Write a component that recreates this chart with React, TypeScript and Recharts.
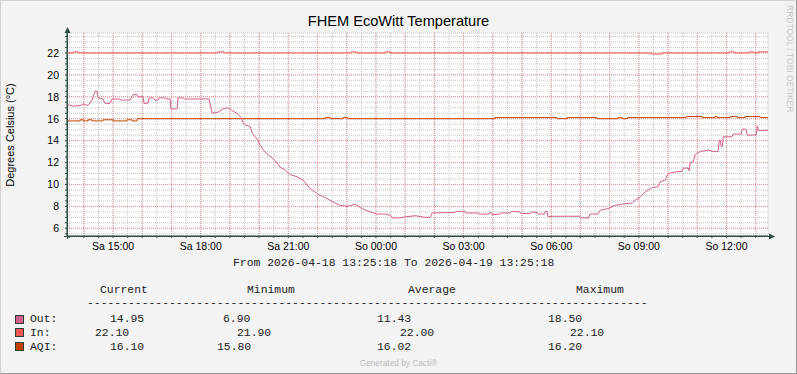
import React from 'react';
import { LineChart, Line, XAxis, YAxis, CartesianGrid } from 'recharts';

// time axis: hours since 2026-04-18 13:25:18
const outTemp: [number, number][] = [
  [0, 17.3], [0.21, 17.15], [0.45, 17.2], [0.55, 17.35], [0.72, 17.2], [0.86, 17.7], [0.96, 18.5], [1.03, 18.5],
  [1.06, 17.9], [1.23, 17.8], [1.3, 17.4], [1.47, 17.4], [1.54, 17.8], [1.82, 17.8], [1.85, 17.7], [2.16, 17.7],
  [2.26, 18.2], [2.4, 18.2], [2.43, 18.0], [2.6, 18.0], [2.64, 17.4], [2.77, 17.4], [2.81, 17.9], [2.95, 17.9],
  [3.01, 17.7], [3.12, 17.7], [3.15, 17.9], [3.36, 17.9], [3.39, 17.8], [3.53, 17.8], [3.56, 16.85], [3.63, 16.9],
  [3.77, 16.9], [3.8, 17.9], [3.97, 17.9], [4.01, 17.8], [4.45, 17.8], [4.86, 17.8], [4.97, 16.5], [5.17, 16.6],
  [5.34, 16.9], [5.48, 17.0], [5.58, 16.9], [5.68, 16.7], [5.82, 16.5], [5.96, 16.1], [6.03, 15.6], [6.13, 15.4],
  [6.27, 15.3], [6.34, 14.7], [6.44, 14.35], [6.54, 14.0], [6.61, 13.6], [6.71, 13.2], [6.82, 12.85], [6.99, 12.5],
  [7.12, 12.2], [7.29, 11.6], [7.47, 11.3], [7.64, 10.9], [7.88, 10.7], [8.08, 10.4], [8.32, 9.65], [8.6, 9.1],
  [8.84, 8.8], [9.11, 8.4], [9.35, 8.1], [9.59, 8.0], [9.86, 8.2], [10.1, 7.8], [10.38, 7.5], [10.62, 7.3],
  [10.89, 7.3], [11.06, 7.2], [11.16, 6.95], [11.4, 6.95], [11.58, 7.05], [11.92, 7.15], [12.26, 7.0], [12.43, 7.0],
  [12.5, 7.4], [13.29, 7.45], [13.32, 7.55], [13.63, 7.55], [13.66, 7.4], [14.08, 7.4], [14.11, 7.3], [14.45, 7.3],
  [14.49, 7.5], [14.55, 7.25], [14.83, 7.3], [14.86, 7.4], [15.17, 7.4], [15.21, 7.55], [15.51, 7.5], [15.55, 7.35],
  [15.86, 7.35], [15.89, 7.5], [16.1, 7.45], [16.13, 7.3], [16.34, 7.3], [16.37, 7.55], [16.44, 7.55], [16.47, 7.05],
  [16.64, 7.1], [17.57, 7.1], [17.6, 6.95], [17.81, 6.95], [17.84, 6.9], [17.91, 7.3], [18.18, 7.3], [18.25, 7.65],
  [18.53, 7.8], [18.77, 8.1], [19.11, 8.25], [19.35, 8.3], [19.45, 8.55], [19.62, 8.85], [19.79, 9.3], [20.03, 9.7],
  [20.24, 9.8], [20.31, 10.25], [20.48, 10.4], [20.58, 11.0], [20.82, 11.15], [21.06, 11.2], [21.1, 11.5], [21.27, 11.5],
  [21.3, 11.25], [21.34, 12.0], [21.44, 12.1], [21.51, 12.75], [21.68, 13.0], [21.95, 13.15], [22.12, 13.0], [22.29, 13.0],
  [22.33, 14.05], [22.36, 14.05], [22.4, 13.45], [22.43, 13.45], [22.47, 14.35], [22.77, 14.35], [22.81, 14.6], [23.08, 14.6],
  [23.12, 15.05], [23.25, 15.05], [23.29, 14.5], [23.46, 14.5], [23.6, 14.55], [23.63, 15.35], [23.67, 14.9], [24, 14.95],
];

const inTemp: [number, number][] = [
  [0, 22.0], [0.24, 22.1], [0.38, 22.0], [5.17, 22.1], [5.38, 22.0], [9.73, 22.1], [9.9, 22.0], [10.89, 22.1],
  [11.06, 22.0], [20.03, 21.9], [20.38, 22.0], [22.67, 22.1], [22.84, 22.0], [23.36, 22.1], [23.49, 22.0],
  [23.66, 22.1], [24, 22.1],
];

const aqi: [number, number][] = [
  [0, 15.9], [0.03, 15.8], [0.45, 15.9], [0.55, 15.8], [0.72, 15.9], [0.86, 15.8], [1.23, 15.9], [1.58, 15.8],
  [2.05, 15.9], [2.23, 15.8], [2.4, 16.0], [8.84, 16.1], [9.01, 16.0], [9.45, 16.1], [9.62, 16.0], [14.66, 16.1],
  [16.78, 16.0], [17.12, 16.1], [18.15, 16.0], [18.87, 16.1], [19.01, 16.0], [19.18, 16.1], [21.2, 16.2], [21.75, 16.1],
  [22.19, 16.2], [22.26, 16.1], [22.71, 16.2], [22.95, 16.1], [23.22, 16.2], [23.73, 16.1], [24, 16.1],
];

const xTickHours = [1.578, 4.578, 7.578, 10.578, 13.578, 16.578, 19.578, 22.578];
const xTickLabels = ['Sa 15:00', 'Sa 18:00', 'Sa 21:00', 'So 00:00', 'So 03:00', 'So 06:00', 'So 09:00', 'So 12:00'];
const yTickLabels = [6, 8, 10, 12, 14, 16, 18, 20, 22];

const seriesNames = ['Out:', 'In:', 'AQI:'];
const seriesColors = ['#D2608A', '#F25752', '#C04400'];
const currentValues = ['14.95', '22.10', '16.10'];
const minimumValues = ['6.90', '21.90', '15.80'];
const averageValues = ['11.43', '22.00', '16.02'];
const maximumValues = ['18.50', '22.10', '16.20'];
const columnHeaders = ['Current', 'Minimum', 'Average', 'Maximum'];

// legend column x positions per row (rrdtool alignment)
const legendCols = [
  [110, 223, 377, 548],
  [95, 237, 400, 570],
  [110, 217, 377, 548],
];
const headerCols = [100, 247, 408, 576];
const rowY = [319, 332.5, 346.5];

const firstHalfHour = 0.0783; // 13:30:00
const halfHours: number[] = [];
for (let t = firstHalfHour; t < 24; t += 0.5) halfHours.push(+t.toFixed(4));
const fullHours: number[] = [];
for (let t = firstHalfHour + 0.5; t < 24; t += 1) fullHours.push(+t.toFixed(4));
const yMinor: number[] = [];
for (let v = 5.5; v <= 23.5; v += 0.5) yMinor.push(v);

const toRows = (s: [number, number][]) => s.map(([t, v]) => ({ t, v }));

const SANS = '"Liberation Sans", Arial, sans-serif';
const MONO = '"Liberation Mono", monospace';

const XTick = (props: any) => {
  const { x, y, payload } = props;
  const i = xTickHours.findIndex((h) => Math.abs(h - payload.value) < 0.01);
  if (i < 0) return <g />;
  return (
    <text x={x} y={y + 10} textAnchor="middle" fontFamily={SANS} fontSize={10.5} fill="#000">
      {xTickLabels[i]}
    </text>
  );
};

const YTick = (props: any) => {
  const { x, y, payload } = props;
  if (!yTickLabels.includes(payload.value)) return <g />;
  return (
    <text x={x} y={y + 3.8} textAnchor="end" fontFamily={SANS} fontSize={10.5} fill="#000">
      {payload.value}
    </text>
  );
};

const T = ({ x, y, size = 11.4, font = MONO, color = '#222', children }: any) => (
  <div
    style={{
      position: 'absolute', left: x, top: y - 7, lineHeight: '14px', fontFamily: font,
      fontSize: size, color, whiteSpace: 'pre',
    }}
  >
    {children}
  </div>
);

export default function App() {
  return (
    <div style={{ position: 'relative', width: 797, height: 374, background: '#F3F3F3', overflow: 'hidden' }}>
      <style>{'body{margin:0}'}</style>
      <div
        style={{
          position: 'absolute', inset: 0, borderTop: '1px solid #d0d0d0', borderLeft: '1px solid #d0d0d0',
          borderRight: '1px solid #999', borderBottom: '1px solid #999', boxSizing: 'border-box',
        }}
      />
      <div style={{ position: 'absolute', left: 0, top: 0 }}>
        <LineChart width={797} height={374} margin={{ top: 33, right: 29, bottom: 118, left: 27 }}>
          <CartesianGrid stroke="#c4c4c4" strokeDasharray="1 1" fill="#fff" />
          <CartesianGrid
            stroke="#ee9090"
            strokeDasharray="1 1"
            fill="none"
            horizontalValues={yTickLabels}
            verticalValues={fullHours}
          />
          <XAxis
            dataKey="t"
            type="number"
            domain={[0, 24]}
            ticks={halfHours}
            interval={0}
            height={20}
            tick={<XTick />}
            tickSize={2}
            tickMargin={2}
            tickLine={{ stroke: '#2C4D43' }}
            axisLine={{ stroke: '#2C4D43' }}
            allowDataOverflow
          />
          <YAxis
            type="number"
            domain={[5.3, 23.82]}
            ticks={yMinor}
            interval={0}
            width={40}
            tick={<YTick />}
            tickSize={2}
            tickMargin={6}
            tickLine={{ stroke: '#2C4D43' }}
            axisLine={{ stroke: '#2C4D43' }}
            allowDataOverflow
          />
          <Line data={toRows(inTemp)} dataKey="v" type="stepAfter" stroke={seriesColors[1]} strokeWidth={1} dot={false} isAnimationActive={false} />
          <Line data={toRows(aqi)} dataKey="v" type="stepAfter" stroke={seriesColors[2]} strokeWidth={1} dot={false} isAnimationActive={false} />
          <Line data={toRows(outTemp)} dataKey="v" type="linear" stroke={seriesColors[0]} strokeWidth={1} dot={false} isAnimationActive={false} />
        </LineChart>
      </div>
      <svg width={797} height={374} style={{ position: 'absolute', left: 0, top: 0, pointerEvents: 'none' }}>
        <line x1={67.5} y1={30} x2={67.5} y2={239} stroke="#2C4D43" />
        <line x1={64} y1={236.5} x2={770} y2={236.5} stroke="#2C4D43" />
        <polygon points="67.5,27 64.5,33 70.5,33" fill="#2C4D43" />
        <polygon points="775,236.5 769,233.5 769,239.5" fill="#2C4D43" />
      </svg>

      <T x={0} y={21} size={14.6} font={SANS} color="#000">
        <div style={{ width: 797, textAlign: 'center' }}>FHEM EcoWitt Temperature</div>
      </T>
      <div
        style={{
          position: 'absolute', left: 10, top: 135, transform: 'translate(-50%, -50%) rotate(-90deg)',
          fontFamily: SANS, fontSize: 11, color: '#000', whiteSpace: 'nowrap',
        }}
      >
        Degrees Celsius (°C)
      </div>
      <div
        style={{
          position: 'absolute', left: 784, top: 5, writingMode: 'vertical-rl', fontFamily: SANS,
          fontSize: 8.5, color: '#c4c4c4', whiteSpace: 'nowrap', lineHeight: '11px',
        }}
      >
        RRDTOOL / TOBI OETIKER
      </div>

      <T x={233} y={263}>From 2026-04-18 13:25:18 To 2026-04-19 13:25:18</T>
      {columnHeaders.map((h, i) => (
        <T key={h} x={headerCols[i]} y={290}>{h}</T>
      ))}
      <T x={87} y={303}>{'-'.repeat(82)}</T>
      {seriesNames.map((name, r) => (
        <React.Fragment key={name}>
          <div
            style={{
              position: 'absolute', left: 15, top: rowY[r] - 4.5, width: 7, height: 7,
              background: seriesColors[r], border: '1px solid #2a3a35',
            }}
          />
          <T x={30} y={rowY[r]}>{name}</T>
          <T x={legendCols[r][0]} y={rowY[r]}>{currentValues[r]}</T>
          <T x={legendCols[r][1]} y={rowY[r]}>{minimumValues[r]}</T>
          <T x={legendCols[r][2]} y={rowY[r]}>{averageValues[r]}</T>
          <T x={legendCols[r][3]} y={rowY[r]}>{maximumValues[r]}</T>
        </React.Fragment>
      ))}
      <T x={0} y={363} size={8.3} font={SANS} color="#bbb">
        <div style={{ width: 797, textAlign: 'center' }}>Generated by Cacti®</div>
      </T>
    </div>
  );
}
